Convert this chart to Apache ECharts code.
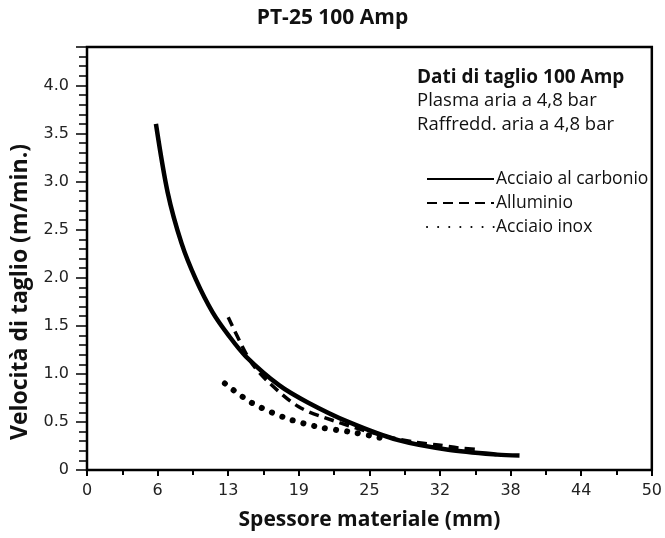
<!DOCTYPE html>
<html>
<head>
<meta charset="utf-8">
<script src="https://cdn.jsdelivr.net/npm/echarts@6/dist/echarts.min.js"></script>
<style>
html, body { margin: 0; padding: 0; background: #fff; }
#main { width: 665px; height: 538px; }
</style>
</head>
<body>
<div id="main"></div>
<script>
// tick labels on the x axis (quarter inch steps shown in mm)
var xTickLabels = ['0', '6', '13', '19', '25', '32', '38', '44', '50'];

// Acciaio al carbonio [mm, m/min]
var carbonData = [
    [6.2, 3.6], [7.25, 2.89], [8.5, 2.36], [9.8, 1.98], [11.3, 1.64],
    [12.8, 1.39], [14.3, 1.18], [17.3, 0.88], [19.9, 0.70], [23.5, 0.50],
    [28.0, 0.31], [32.5, 0.21], [36.9, 0.16], [38.9, 0.15]
];
// Alluminio
var aluData = [
    [12.7, 1.59], [14.6, 1.15], [16.1, 0.94], [19.0, 0.66], [22.0, 0.52],
    [26.5, 0.36], [29.5, 0.29], [31.6, 0.26], [33.4, 0.23], [35.4, 0.21]
];
// Acciaio inox
var inoxData = [
    [12.4, 0.90], [14.8, 0.70], [17.9, 0.54], [21.1, 0.44], [23.5, 0.40],
    [26.2, 0.34], [27.2, 0.31]
];

var seriesNames = ['Acciaio al carbonio', 'Alluminio', 'Acciaio inox'];

var chart = echarts.init(document.getElementById('main'));

var option = {
    animation: false,
    title: [
        {
            text: 'PT-25 100 Amp',
            left: 'center',
            top: 3,
            textStyle: { fontFamily: 'Open Sans', fontWeight: 'bold', fontSize: 21, color: '#111' }
        },
        {
            text: 'Dati di taglio 100 Amp',
            subtext: 'Plasma aria a 4,8 bar\nRaffredd. aria a 4,8 bar',
            left: 412,
            top: 63,
            itemGap: 2,
            textStyle: { fontFamily: 'Open Sans', fontWeight: 'bold', fontSize: 19, color: '#111' },
            subtextStyle: { fontFamily: 'Open Sans', fontSize: 18.5, color: '#111', lineHeight: 24 }
        }
    ],
    graphic: [
        {
            type: 'text',
            x: 20,
            y: 292,
            rotation: Math.PI / 2,
            style: {
                text: 'Velocità di taglio (m/min.)',
                fontFamily: 'Open Sans',
                fontWeight: 'bold',
                fontSize: 23,
                fill: '#111',
                align: 'center',
                verticalAlign: 'middle'
            }
        }
    ],
    legend: {
        data: seriesNames,
        orient: 'vertical',
        left: 421,
        top: 164,
        itemWidth: 67,
        itemHeight: 20,
        itemGap: 4,
        itemStyle: { opacity: 0 },
        textStyle: { fontFamily: 'Open Sans', fontSize: 17.5, color: '#111', lineHeight: 20, padding: [0, 0, 0, -3] }
    },
    grid: {
        left: 87,
        right: 10,
        top: 47,
        bottom: 68,
        show: true,
        borderColor: '#000',
        borderWidth: 2.5
    },
    xAxis: {
        type: 'value',
        min: 0,
        max: 50.8,
        interval: 6.35,
        name: 'Spessore materiale (mm)',
        nameLocation: 'middle',
        nameGap: 40,
        nameTextStyle: { fontFamily: 'Open Sans', fontWeight: 'bold', fontSize: 21, color: '#111' },
        axisLine: { lineStyle: { color: '#000', width: 2 } },
        axisTick: { length: 6, lineStyle: { color: '#000', width: 2 } },
        minorTick: { show: true, splitNumber: 2, length: 5, lineStyle: { color: '#000', width: 2 } },
        splitLine: { show: false },
        axisLabel: {
            fontFamily: 'DejaVu Sans',
            fontSize: 16,
            color: '#222',
            margin: 13,
            formatter: function (v) {
                return xTickLabels[Math.round(v / 6.35)];
            }
        }
    },
    yAxis: {
        type: 'value',
        min: 0,
        max: 4.4,
        interval: 0.5,
        axisLine: { lineStyle: { color: '#000', width: 2 } },
        axisTick: { length: 11, lineStyle: { color: '#000', width: 1.5 } },
        minorTick: { show: true, splitNumber: 5, length: 8, lineStyle: { color: '#000', width: 1.5 } },
        splitLine: { show: false },
        axisLabel: {
            fontFamily: 'DejaVu Sans',
            fontSize: 16,
            color: '#222',
            margin: 18,
            formatter: function (v) {
                if (v === 0) return '0';
                if (Math.abs(v * 2 - Math.round(v * 2)) > 1e-6) return '';
                return v.toFixed(1);
            }
        }
    },
    series: [
        {
            name: seriesNames[0],
            type: 'line',
            data: carbonData,
            smooth: 0.3,
            symbol: 'none',
            lineStyle: { color: '#000', width: 4.5 },
            itemStyle: { color: '#000' }
        },
        {
            name: seriesNames[1],
            type: 'line',
            data: aluData,
            smooth: 0.3,
            symbol: 'none',
            lineStyle: { color: '#000', width: 3.5, type: [10, 6] },
            itemStyle: { color: '#000' }
        },
        {
            name: seriesNames[2],
            type: 'line',
            data: inoxData,
            smooth: 0.3,
            symbol: 'none',
            lineStyle: { color: '#000', width: 6, type: [0.1, 11], cap: 'round' },
            itemStyle: { color: '#000' }
        }
    ]
};

chart.setOption(option);
</script>
</body>
</html>
